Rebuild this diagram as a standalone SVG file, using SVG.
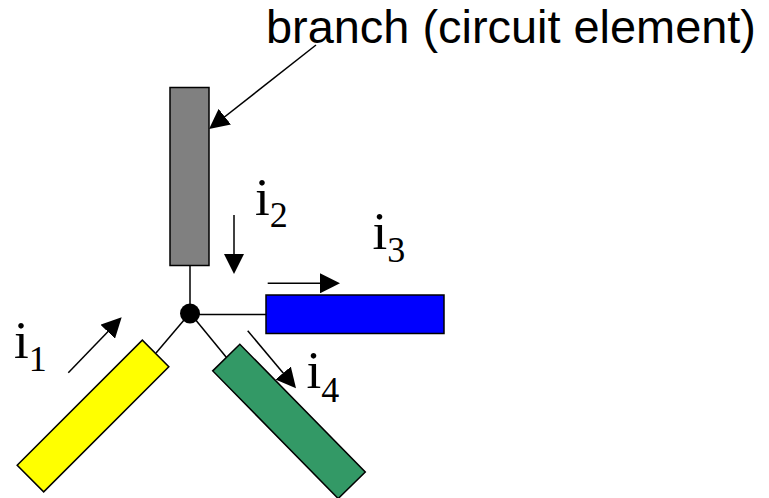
<svg xmlns="http://www.w3.org/2000/svg" width="769" height="498" viewBox="0 0 769 498">
  <style>
    .elem { stroke: #000; stroke-width: 1.5; }
    .wire { stroke: #000; stroke-width: 1.5; fill: none; }
    .arrow { stroke: #000; stroke-width: 1.5; fill: none; marker-end: url(#head); }
    .title { font-family: "Liberation Sans", Arial, sans-serif; font-size: 47px; fill: #000; }
    .cur { font-family: "Liberation Serif", "Times New Roman", serif; font-size: 53px; fill: #000; }
    .sub { font-size: 36px; }
  </style>
  <defs>
    <marker id="head" markerUnits="userSpaceOnUse" markerWidth="20" markerHeight="20" refX="15" refY="10" orient="auto">
      <path d="M0,0 L20,10 L0,20 Z" fill="#000"/>
    </marker>
  </defs>

  <!-- wires joining each branch to the node -->
  <g id="connectors">
    <line class="wire" x1="190" y1="265" x2="190" y2="313"/>
    <line class="wire" x1="190" y1="314.5" x2="266" y2="314.5"/>
    <line class="wire" x1="190" y1="313" x2="156" y2="353"/>
    <line class="wire" x1="190" y1="313" x2="226.5" y2="357.5"/>
    <!-- pointer from the caption to the branch -->
    <line class="arrow" x1="316" y1="45" x2="213" y2="126"/>
  </g>

  <g id="caption">
    <text class="title" x="266" y="43" textLength="490" lengthAdjust="spacingAndGlyphs">branch (circuit element)</text>
  </g>

  <g id="branch2">
    <rect class="elem" x="170" y="87.5" width="39" height="178" fill="#808080"/>
  </g>
  <g id="branch3">
    <rect class="elem" x="266" y="295" width="178" height="38.5" fill="#0000ff"/>
  </g>
  <g id="branch1">
    <rect class="elem" x="-88.5" y="-18.75" width="177" height="37.5" fill="#ffff00" transform="translate(93 416) rotate(-45)"/>
  </g>
  <g id="branch4">
    <rect class="elem" x="-89.5" y="-19" width="179" height="38" fill="#339966" transform="translate(289 421.4) rotate(45.5)"/>
  </g>

  <g id="node">
    <circle cx="190" cy="313.5" r="10" fill="#000"/>
  </g>

  <!-- current direction arrows -->
  <g id="currents">
    <line class="arrow" x1="68.3" y1="372.7" x2="118.2" y2="320.9"/>
    <line class="arrow" x1="234" y1="215" x2="234" y2="269"/>
    <line class="arrow" x1="267.7" y1="283.3" x2="335" y2="283.3"/>
    <line class="arrow" x1="247.7" y1="330.7" x2="292.8" y2="384.5"/>
  </g>

  <g id="labels">
    <text class="cur" x="14" y="358.3">i<tspan class="sub" dy="12.4">1</tspan></text>
    <text class="cur" x="255" y="215">i<tspan class="sub" dy="12.3">2</tspan></text>
    <text class="cur" x="372.5" y="249.3">i<tspan class="sub" dy="12.4">3</tspan></text>
    <text class="cur" x="306.5" y="388.3">i<tspan class="sub" dy="13.4">4</tspan></text>
  </g>
</svg>
